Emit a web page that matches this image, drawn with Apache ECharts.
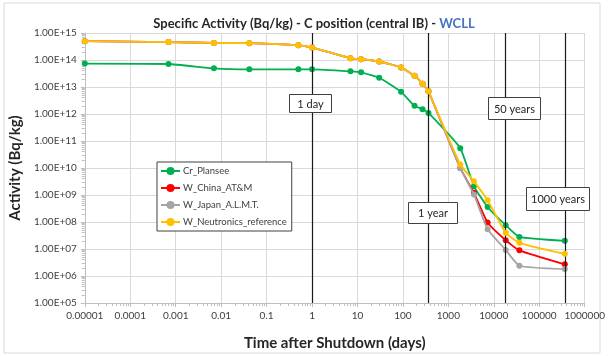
<!DOCTYPE html>
<html>
<head>
<meta charset="utf-8">
<script src="https://cdn.jsdelivr.net/npm/echarts@6/dist/echarts.min.js"></script>
<style>
  html, body { margin: 0; padding: 0; background: #fff; }
  #chart { width: 608px; height: 356px; }
</style>
</head>
<body>
<div id="chart"></div>
<script>
// time after shutdown, days (1e-5 stands for shutdown)
const timeDays = [0.00001, 0.000694, 0.00694, 0.0417, 0.5, 1, 7, 12, 30, 91, 180, 270, 365, 1826, 3652, 7305, 18262, 36525, 365250]

const crPlansee = [7.4e13, 7.1e13, 4.9e13, 4.5e13, 4.5e13, 4.5e13, 3.8e13, 3.5e13, 2.2e13, 6.6e12, 2.0e12, 1.5e12, 1.1e12, 5.4e10, 2.1e9, 3.6e8, 7.6e7, 2.8e7, 2.0e7]
const wChina = [5.0e14, 4.6e14, 4.3e14, 4.2e14, 3.5e14, 2.9e14, 1.16e14, 1.07e14, 8.8e13, 5.3e13, 2.6e13, 1.32e13, 6.9e12, 1.0e10, 1.2e9, 9.5e7, 2.1e7, 8.9e6, 2.7e6]
const wJapan = [5.0e14, 4.6e14, 4.3e14, 4.2e14, 3.5e14, 2.9e14, 1.16e14, 1.07e14, 8.8e13, 5.3e13, 2.6e13, 1.32e13, 6.9e12, 9.8e9, 1.05e9, 5.4e7, 9.2e6, 2.4e6, 1.8e6]
const wNeutronics = [5.0e14, 4.6e14, 4.3e14, 4.2e14, 3.5e14, 2.9e14, 1.16e14, 1.07e14, 8.8e13, 5.3e13, 2.6e13, 1.32e13, 6.9e12, 1.35e10, 3.2e9, 6.4e8, 4.0e7, 1.7e7, 6.6e6]

const seriesNames = ["Cr_Plansee", "W_China_AT&M", "W_Japan_A.L.M.T.", "W_Neutronics_reference"]
const seriesColors = ["#00B050", "#FF0000", "#A5A5A5", "#FFC000"]

// 1 day, 1 year, 50 years, 1000 years
const markerDays = [1, 365, 18262, 365250]
const markerLabels = ["1 day", "1 year", "50 years", "1000 years"]

const xTickLabels = ["0.00001", "0.0001", "0.001", "0.01", "0.1", "1", "10", "100", "1000", "10000", "100000", "1000000"]
const yTickLabels = ["1.00E+05", "1.00E+06", "1.00E+07", "1.00E+08", "1.00E+09", "1.00E+10", "1.00E+11", "1.00E+12", "1.00E+13", "1.00E+14", "1.00E+15"]

const FONT = "Lato"
const chart = echarts.init(document.getElementById("chart"))

const pairs = (vals) => timeDays.map((t, i) => [t, vals[i]])
const allValues = [crPlansee, wChina, wJapan, wNeutronics]

// label boxes, pixel rectangles [x, y, w, h]
const boxRects = [
  [289, 94, 42, 18],
  [408, 202, 49, 21],
  [488, 97, 52, 22],
  [526, 187, 63, 23],
]

const graphic = [
  {
    type: "rect",
    shape: { x: 4, y: 3, width: 596, height: 350 },
    style: { fill: "none", stroke: "#d9d9d9", lineWidth: 1 },
    z: 0,
  },
]
boxRects.forEach((r, i) => {
  graphic.push({
    type: "rect",
    z: 100,
    shape: { x: r[0] + 0.5, y: r[1] + 0.5, width: r[2], height: r[3] },
    style: { fill: "#fff", stroke: "#404040", lineWidth: 1 },
  })
  graphic.push({
    type: "text",
    z: 101,
    x: r[0] + r[2] / 2 + 0.5,
    y: r[1] + r[3] / 2 + 1,
    style: {
      text: markerLabels[i],
      fill: "#262626",
      font: `11px ${FONT}`,
      align: "center",
      verticalAlign: "middle",
    },
  })
})

const series = [
  {
    type: "line",
    name: "_markers",
    data: [],
    z: 1,
    silent: true,
    markLine: {
      silent: true,
      symbol: "none",
      label: { show: false },
      lineStyle: { color: "#1a1a1a", width: 1.2, type: "solid" },
      animation: false,
      data: markerDays.map((d) => ({ xAxis: d })),
    },
  },
]
allValues.forEach((vals, i) => {
  series.push({
    type: "line",
    name: seriesNames[i],
    data: pairs(vals),
    z: 2 + i,
    smooth: 0.15,
    symbol: "circle",
    symbolSize: 6,
    color: seriesColors[i],
    lineStyle: { width: 1.8, color: seriesColors[i] },
    itemStyle: { color: seriesColors[i] },
    animation: false,
  })
})

chart.setOption({
  animation: false,
  title: {
    text: "{a|Specific Activity (Bq/kg) - C position (central IB) - }{b|WCLL}",
    left: 309,
    textAlign: "center",
    top: 12,
    textStyle: {
      rich: {
        a: { fontFamily: FONT, fontSize: 13, fontWeight: "bold", color: "#262626" },
        b: { fontFamily: FONT, fontSize: 13, fontWeight: "bold", color: "#4472C4" },
      },
    },
  },
  legend: {
    data: seriesNames,
    orient: "vertical",
    left: 157,
    top: 162,
    itemWidth: 19,
    itemHeight: 10,
    itemGap: 7,
    padding: [4, 5, 4, 3],
    backgroundColor: "#fff",
    borderColor: "#404040",
    borderWidth: 1,
    borderRadius: 0,
    textStyle: { fontFamily: FONT, fontSize: 9.5, color: "#404040", padding: [0, 0, 0, -2] },
    z: 50,
  },
  grid: { left: 75, right: 20, top: 33, bottom: 49, containLabel: false },
  xAxis: {
    type: "log",
    logBase: 10,
    min: 0.00001,
    max: 1000000,
    interval: 1,
    name: "Time after Shutdown (days)",
    nameLocation: "middle",
    nameGap: 33,
    nameTextStyle: { fontFamily: FONT, fontSize: 15, fontWeight: "bold", color: "#262626" },
    axisLine: { show: true, lineStyle: { color: "#bfbfbf" } },
    axisTick: { show: true, length: 4, lineStyle: { color: "#bfbfbf" } },
    minorTick: { show: true, splitNumber: 9, length: 3, lineStyle: { color: "#bfbfbf" } },
    axisLabel: {
      fontFamily: FONT,
      fontSize: 10,
      color: "#404040",
      margin: 8,
      formatter: (v) => xTickLabels[Math.round(Math.log10(v)) + 5],
    },
    splitLine: { show: true, lineStyle: { color: "#d9d9d9", width: 1 } },
  },
  yAxis: {
    type: "log",
    logBase: 10,
    min: 100000,
    max: 1e15,
    interval: 1,
    name: "Activity (Bq/kg)",
    nameLocation: "middle",
    nameGap: 58,
    nameTextStyle: { fontFamily: FONT, fontSize: 15, fontWeight: "bold", color: "#262626" },
    axisLine: { show: true, lineStyle: { color: "#bfbfbf" } },
    axisTick: { show: true, length: 4, lineStyle: { color: "#bfbfbf" } },
    minorTick: { show: true, splitNumber: 9, length: 3, lineStyle: { color: "#bfbfbf" } },
    axisLabel: {
      fontFamily: FONT,
      fontSize: 10,
      color: "#404040",
      margin: 8,
      formatter: (v) => yTickLabels[Math.round(Math.log10(v)) - 5],
    },
    splitLine: { show: true, lineStyle: { color: "#d9d9d9", width: 1 } },
  },
  graphic: graphic,
  series: series,
})
</script>
</body>
</html>
